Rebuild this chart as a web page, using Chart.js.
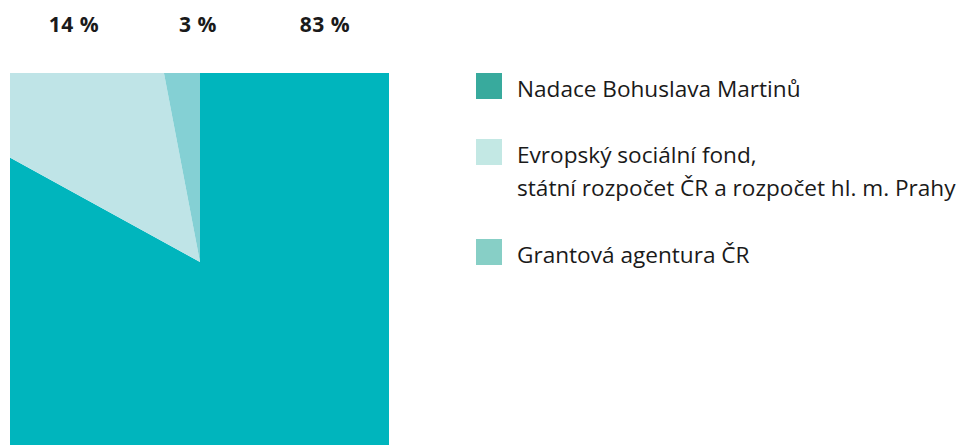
<!DOCTYPE html>
<html>
<head>
<meta charset="utf-8">
<script src="https://cdn.jsdelivr.net/npm/chart.js@4"></script>
<style>
  html, body { margin:0; padding:0; background:#fff; width:964px; height:445px; overflow:hidden; }
  body { position:relative; font-family: "Open Sans", Lato, sans-serif; color:#1a1a1a; }
  #clip { position:absolute; left:10px; top:73px; width:379px; height:372px; overflow:hidden; }
  #c { position:absolute; left:-110px; top:-111px; }
  .pct { position:absolute; top:10px; font-weight:bold; font-size:21px; letter-spacing:0.5px; transform:translateX(-50%); white-space:nowrap; }
  #legend { position:absolute; left:476px; top:0; }
  .item { position:absolute; left:0; white-space:nowrap; }
  .sw { position:absolute; left:0; top:0; width:26px; height:26px; }
  .txt { position:absolute; left:41px; top:-1px; font-size:22.6px; line-height:33px; }
</style>
</head>
<body>
<div id="clip"><canvas id="c" width="600" height="600"></canvas></div>
<div id="labels"></div>
<div id="legend"></div>
<script>
// ---- data ----
const categories = [
  ["Nadace Bohuslava Martinů"],
  ["Evropský sociální fond,", "státní rozpočet ČR a rozpočet hl. m. Prahy"],
  ["Grantová agentura ČR"]
];
const shares = [83, 14, 3];
const percentLabels = ["14 %", "3 %", "83 %"];
const sliceColors = ["#00b5bd", "#bfe4e7", "#84d0d4"];
const legendColors = ["#38aa9d", "#c3e8e4", "#87cfc6"];

// ---- chart ----
new Chart(document.getElementById('c'), {
  type: 'pie',
  data: {
    labels: categories.map(l => l.join(' ')),
    datasets: [{ data: shares, backgroundColor: sliceColors, borderWidth: 0 }]
  },
  options: {
    responsive: false,
    animation: false,
    layout: { padding: 0 },
    plugins: { legend: { display: false }, tooltip: { enabled: false } }
  }
});

// ---- percentage labels above the square ----
const labelX = [74, 198, 325];
const lab = document.getElementById('labels');
percentLabels.forEach((t, i) => {
  const d = document.createElement('div');
  d.className = 'pct';
  d.style.left = labelX[i] + 'px';
  d.textContent = t;
  lab.appendChild(d);
});

// ---- legend ----
const legendY = [73, 139, 239];
const lg = document.getElementById('legend');
categories.forEach((lines, i) => {
  const it = document.createElement('div');
  it.className = 'item';
  it.style.top = legendY[i] + 'px';
  const sw = document.createElement('div');
  sw.className = 'sw';
  sw.style.background = legendColors[i];
  const tx = document.createElement('div');
  tx.className = 'txt';
  tx.innerHTML = lines.map(s => s.replace(/&/g,'&amp;').replace(/</g,'&lt;')).join('<br>');
  it.appendChild(sw); it.appendChild(tx);
  lg.appendChild(it);
});
</script>
</body>
</html>
